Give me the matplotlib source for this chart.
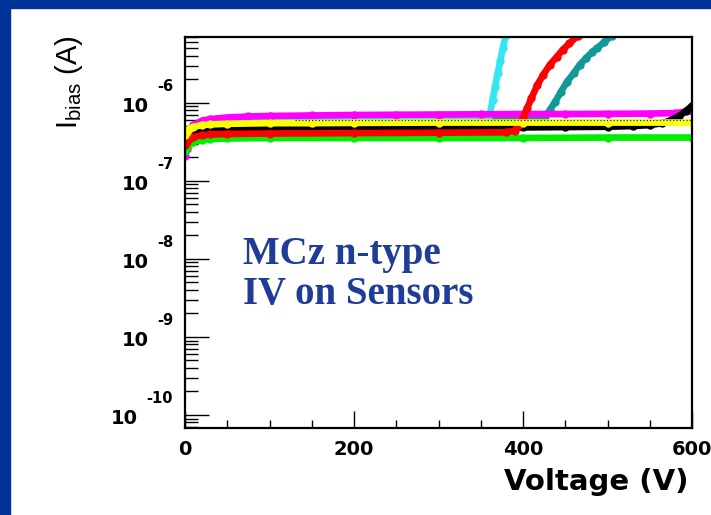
import numpy as np
import matplotlib

matplotlib.use("Agg")
import matplotlib.pyplot as plt
import matplotlib.transforms as mtransforms
from matplotlib.patches import Rectangle
from matplotlib.ticker import FixedLocator, LogLocator, NullFormatter

plt.rcParams["mathtext.fontset"] = "custom"
plt.rcParams["mathtext.rm"] = "Liberation Sans"

# IV scans of MCz n-type sensors: bias current (A) vs voltage (V)
volt_magenta = [0, 2, 5, 10, 20, 30, 50, 75, 100, 150, 200, 250, 300, 350, 400, 450, 500, 550, 580, 600]
cur_magenta = [2.1e-7, 2.6e-7, 4.3e-7, 5.2e-7, 5.9e-7, 6.2e-7, 6.5e-7, 6.7e-7, 6.8e-7, 6.9e-7,
               7.0e-7, 7.05e-7, 7.1e-7, 7.15e-7, 7.2e-7, 7.2e-7, 7.25e-7, 7.3e-7, 7.4e-7, 7.9e-7]

volt_cyan = [0, 2, 5, 10, 20, 30, 50, 100, 150, 200, 250, 300, 350, 358, 361, 364, 367, 370, 373, 376, 380]
cur_cyan = [2.4e-7, 2.9e-7, 4.0e-7, 4.8e-7, 5.4e-7, 5.7e-7, 6.0e-7, 6.2e-7, 6.3e-7, 6.35e-7, 6.4e-7,
            6.45e-7, 6.6e-7, 6.8e-7, 7.3e-7, 1.1e-6, 1.6e-6, 2.4e-6, 3.4e-6, 5.0e-6, 7.5e-6]

volt_yellow = [0, 2, 5, 10, 20, 30, 50, 100, 150, 200, 300, 400, 500, 600]
cur_yellow = [3.9e-7, 4.3e-7, 4.6e-7, 4.9e-7, 5.2e-7, 5.3e-7, 5.4e-7, 5.5e-7, 5.5e-7, 5.55e-7,
              5.6e-7, 5.6e-7, 5.6e-7, 5.6e-7]

volt_black = [0, 2, 5, 10, 20, 30, 50, 100, 200, 300, 400, 450, 500, 530, 550, 565, 575, 585, 593, 600]
cur_black = [3.6e-7, 3.9e-7, 4.2e-7, 4.4e-7, 4.55e-7, 4.65e-7, 4.7e-7, 4.8e-7, 4.85e-7, 4.85e-7,
             4.85e-7, 4.9e-7, 4.95e-7, 5.05e-7, 5.2e-7, 5.5e-7, 6.0e-7, 6.8e-7, 7.9e-7, 9.2e-7]

volt_red = [0, 2, 5, 10, 20, 30, 50, 100, 200, 300, 380, 390, 395, 400, 405, 410, 417, 424, 432,
            440, 447, 455, 465]
cur_red = [2.9e-7, 3.2e-7, 3.45e-7, 3.65e-7, 3.85e-7, 3.95e-7, 4.0e-7, 4.05e-7, 4.1e-7, 4.15e-7, 4.2e-7,
           4.4e-7, 5.2e-7, 6.4e-7, 8.6e-7, 1.15e-6, 1.7e-6, 2.3e-6, 3.1e-6, 3.9e-6, 4.8e-6, 5.8e-6, 7.3e-6]

volt_teal = [0, 5, 10, 20, 50, 100, 200, 300, 400, 420, 426, 432, 438, 445, 452, 460, 467, 475,
             482, 488, 496, 505]
cur_teal = [2.6e-7, 4.2e-7, 4.9e-7, 5.5e-7, 6.0e-7, 6.2e-7, 6.3e-7, 6.3e-7, 6.3e-7, 6.3e-7, 6.6e-7,
            8.2e-7, 1.03e-6, 1.4e-6, 1.86e-6, 2.4e-6, 3.07e-6, 3.8e-6, 4.5e-6, 5.1e-6, 6.0e-6, 7.3e-6]

volt_green = [0, 2, 5, 10, 20, 30, 50, 100, 200, 300, 400, 500, 600]
cur_green = [2.4e-7, 2.7e-7, 3.0e-7, 3.2e-7, 3.35e-7, 3.45e-7, 3.5e-7, 3.55e-7, 3.55e-7, 3.55e-7,
             3.55e-7, 3.6e-7, 3.6e-7]

volt_blue = [130, 200, 300, 400, 500, 600]
cur_blue = [6.0e-7, 6.0e-7, 6.0e-7, 6.0e-7, 6.0e-7, 6.0e-7]

x_labels = ["0", "200", "400", "600"]
decades = [-10, -9, -8, -7, -6]

fig = plt.figure(figsize=(7.11, 5.15), dpi=100)
fig.patch.set_facecolor("white")
# slide frame
fig.patches.append(Rectangle((0, 0), 10 / 711, 1, transform=fig.transFigure,
                             color="#003399", zorder=0))
fig.patches.append(Rectangle((0, 1 - 8 / 515), 1, 8 / 515, transform=fig.transFigure,
                             color="#003399", zorder=0))

ax = fig.add_axes([185 / 711, 1 - 428 / 515, 507 / 711, 391 / 515])
ax.set_yscale("log")

series = [
    (volt_teal, cur_teal, "#119999", 1.5),
    (volt_cyan, cur_cyan, "#33e6f0", 2),
    (volt_magenta, cur_magenta, "#ff00ff", 3),
    (volt_green, cur_green, "#00ee00", 6),
    (volt_black, cur_black, "#000000", 7),
    (volt_red, cur_red, "#ff0000", 8),
    (volt_yellow, cur_yellow, "#ffff00", 9),
]
for v, i, c, z in series:
    ax.plot(v, i, color=c, lw=4.8, marker="o", ms=5.0, mec=c, mfc=c, zorder=z)
ax.plot(volt_blue, cur_blue, color="#1a1acc", lw=0.9, ls=":", zorder=9.5)

ax.set_xlim(0, 600)
ax.set_ylim(6.8e-11, 7.0e-6)

for side in ["left", "right", "top", "bottom"]:
    ax.spines[side].set_linewidth(1.6)
    ax.spines[side].set_color("black")
    ax.spines[side].set_zorder(20)

ax.xaxis.set_major_locator(FixedLocator([0, 200, 400, 600]))
ax.xaxis.set_minor_locator(FixedLocator([50, 100, 150, 250, 300, 350, 450, 500, 550]))
ax.set_xticklabels(x_labels, fontsize=14, fontweight="bold", family="DejaVu Sans")
ax.tick_params(axis="x", which="major", direction="in", length=12, width=1.0, pad=8.5)
ax.tick_params(axis="x", which="minor", direction="in", length=6, width=1.0)

ax.yaxis.set_major_locator(FixedLocator([10.0 ** e for e in decades]))
ax.yaxis.set_minor_locator(LogLocator(base=10, subs=np.arange(2, 10), numticks=20))
ax.yaxis.set_major_formatter(NullFormatter())
ax.yaxis.set_minor_formatter(NullFormatter())
ax.tick_params(axis="y", which="major", direction="in", length=17, width=1.0)
ax.tick_params(axis="y", which="minor", direction="in", length=9, width=1.0)

# ROOT-style "10  -n" labels: exponent right-aligned, mantissa to its lower left
trans = mtransforms.blended_transform_factory(ax.transAxes, ax.transData)
for e in decades:
    exp_txt = ax.annotate("%d" % e, xy=(-12 / 507, 10.0 ** e), xycoords=trans,
                          xytext=(0, 6.5), textcoords="offset points", ha="right", va="bottom",
                          fontsize=10.5, fontweight="bold", family="DejaVu Sans")
    ax.annotate("10", xy=(0, 0), xycoords=exp_txt, xytext=(-6, -2),
                textcoords="offset points", ha="right", va="top",
                fontsize=14, fontweight="bold", family="DejaVu Sans")

ax.set_ylabel(r"I$_{\rm bias}$ (A)", fontsize=21, family="Liberation Sans")
ax.yaxis.set_label_coords(-100 / 507, (428 - 82) / 391)
ax.set_xlabel("Voltage (V)", fontsize=21, fontweight="bold", family="DejaVu Sans",
              ha="right")
ax.xaxis.set_label_coords(504 / 507, -40 / 391)

ax.text(58 / 507, (428 - 304) / 391, "MCz n-type\nIV on Sensors", transform=ax.transAxes,
        ha="left", va="baseline", fontsize=28, fontweight="bold", family="Liberation Serif",
        color="#1f3c96", linespacing=1.1, zorder=10)

fig.savefig("out.png", dpi=100, facecolor=fig.get_facecolor())
